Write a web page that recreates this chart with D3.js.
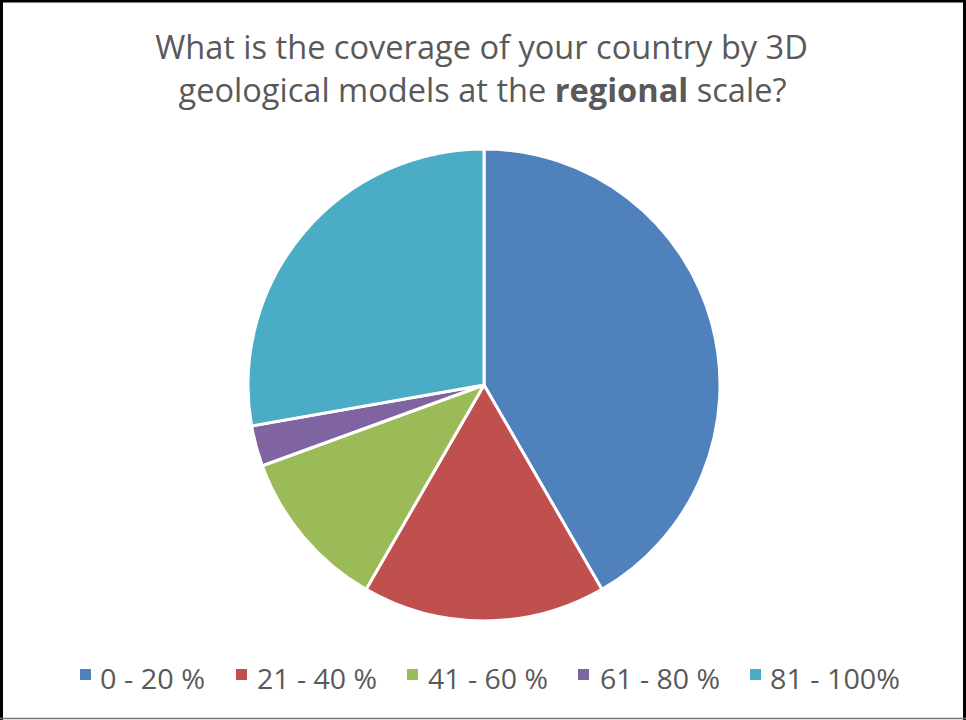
<!DOCTYPE html>
<html>
<head>
<meta charset="utf-8">
<script src="https://cdn.jsdelivr.net/npm/d3@7"></script>
<style>
  html, body { margin: 0; padding: 0; background: #fff; }
  svg { display: block; }
</style>
</head>
<body>
<svg id="chart" width="966" height="720"></svg>
<script>
// Survey answers: number of respondents per coverage band
const categories = ["0 - 20 %", "21 - 40 %", "41 - 60 %", "61 - 80 %", "81 - 100%"];
const counts = [15, 6, 4, 1, 10];
const colors = ["#4F81BD", "#C0504D", "#9BBB59", "#8064A2", "#4BACC6"];

const W = 966, H = 720;
const svg = d3.select("#chart");
const font = "'Open Sans', Lato, sans-serif";
const textColor = "#595959";

// Scale a text's font size so its drawn width equals the given width
function fitWidth(sel, width) {
  const w = sel.node().getComputedTextLength();
  const fs = parseFloat(sel.attr("font-size"));
  sel.attr("font-size", fs * width / w);
  return fs * width / w;
}

// Frame around the chart area
svg.append("rect").attr("width", W).attr("height", H).attr("fill", "#fff");
svg.append("line").attr("x1", 0).attr("x2", W).attr("y1", 1).attr("y2", 1).attr("stroke", "#000").attr("stroke-width", 3);
svg.append("line").attr("x1", 1.5).attr("x2", 1.5).attr("y1", 0).attr("y2", H).attr("stroke", "#000").attr("stroke-width", 3);
svg.append("line").attr("x1", W - 1.5).attr("x2", W - 1.5).attr("y1", 0).attr("y2", H).attr("stroke", "#000").attr("stroke-width", 3);
svg.append("line").attr("x1", 0).attr("x2", W).attr("y1", H - 1.5).attr("y2", H - 1.5).attr("stroke", "#777").attr("stroke-width", 1.5);

// Title (two lines, one word in bold)
const t1 = svg.append("text")
  .attr("text-anchor", "middle").attr("x", 481.5).attr("y", 59)
  .attr("font-family", font).attr("font-size", 30).attr("fill", textColor)
  .text("What is the coverage of your country by 3D");
const titleSize = fitWidth(t1, 653);
const t2 = svg.append("text")
  .attr("text-anchor", "middle").attr("x", 482.5).attr("y", 102)
  .attr("font-family", font).attr("font-size", titleSize).attr("fill", textColor);
t2.append("tspan").text("geological models at the ");
t2.append("tspan").attr("font-weight", "bold").text("regional");
t2.append("tspan").text(" scale?");

// Pie
const cx = 484, cy = 385, r = 236;
const pie = d3.pie().sort(null).value(d => d)(counts);
const arc = d3.arc().innerRadius(0).outerRadius(r);
const color = d3.scaleOrdinal().domain(categories).range(colors);

svg.append("g")
  .attr("transform", `translate(${cx},${cy})`)
  .selectAll("path")
  .data(pie)
  .join("path")
  .attr("d", arc)
  .attr("fill", (d, i) => color(categories[i]))
  .attr("stroke", "#fff")
  .attr("stroke-width", 3)
  .attr("stroke-linejoin", "round");

// Legend
const legendX = [80, 236, 407, 578, 750];
const legendTextX = [100, 257, 428, 600, 770];
const legendTextW = [105, 120, 120, 120, 130];
categories.forEach((c, i) => {
  svg.append("rect")
    .attr("x", legendX[i]).attr("y", 669).attr("width", 11).attr("height", 11)
    .attr("fill", color(c));
  svg.append("text")
    .attr("x", legendTextX[i]).attr("y", 689)
    .attr("font-family", font).attr("font-size", 26.5).attr("fill", textColor)
    .attr("textLength", legendTextW[i]).attr("lengthAdjust", "spacingAndGlyphs")
    .text(c);
});
</script>
</body>
</html>
